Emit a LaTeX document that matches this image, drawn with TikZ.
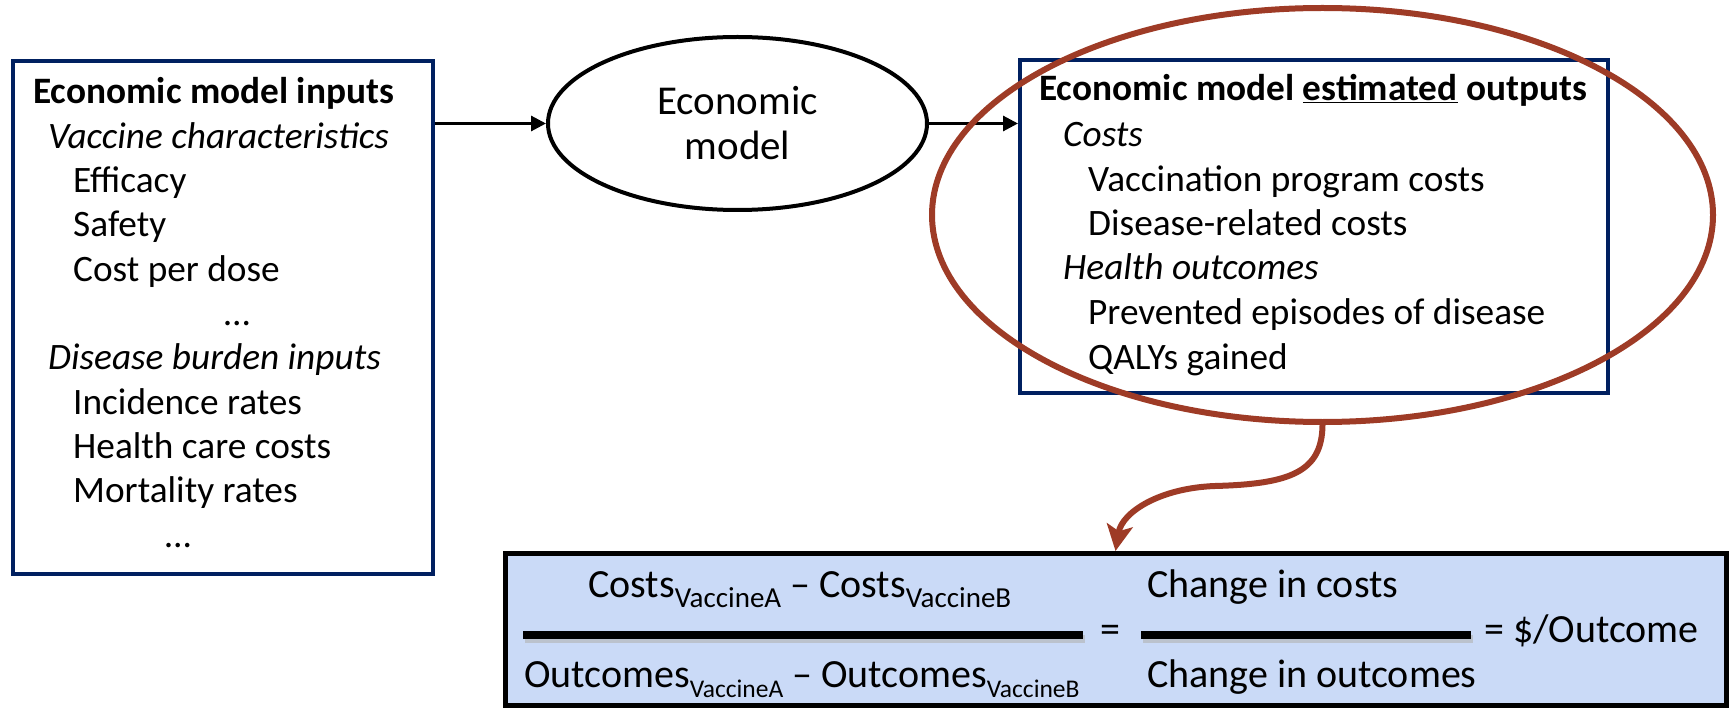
\documentclass[tikz,border=0pt]{standalone}
\usepackage{fontspec}
\setmainfont{Carlito}
\usetikzlibrary{arrows.meta,shapes.geometric}

\definecolor{boxnavy}{RGB}{0,32,96}
\definecolor{ringred}{RGB}{158,59,38}
\definecolor{ratioblue}{RGB}{202,218,247}

% lowered, smaller label after Costs / Outcomes (optional size)
\newcommand{\vsub}[2][25.5]{\raisebox{-10pt}{\fontsize{#1}{30}\selectfont #2}}

\tikzset{
  listbox/.style={draw=boxnavy,line width=4pt,rectangle,inner sep=0pt},
  txt/.style={anchor=base west,inner sep=0pt,font=\fontsize{37.3}{44.5}\selectfont},
  bigtxt/.style={anchor=base west,inner sep=0pt,font=\fontsize{40}{48}\selectfont},
  flow/.style={line width=3pt,-{Triangle[length=15pt,width=15pt]}},
  fracbar/.style={line width=8pt},
  barshade/.style={line width=8pt,black!30,opacity=.6},
}

\begin{document}
\begin{tikzpicture}[x=1pt,y=-1pt]
  \useasboundingbox (0,0) rectangle (1731,708);

  % inputs
  \node[listbox,minimum width=420pt,minimum height=513pt] (inbox) at (223,317.5) {};
  \node[txt] (inhead) at (33,104) {\bfseries Economic model inputs};
  \node[txt] (invac) at (48,148.3) {\itshape Vaccine characteristics};
  \node[txt] (ineff) at (73,192.6) {Efficacy};
  \node[txt] (insafe) at (73,236.9) {Safety};
  \node[txt] (incost) at (73,281.2) {Cost per dose};
  \node[txt,anchor=base] (indotsa) at (237,325.5) {…};
  \node[txt] (indis) at (48,369.8) {\itshape Disease burden inputs};
  \node[txt] (ininc) at (73,414.1) {Incidence rates};
  \node[txt] (inhcc) at (73,458.4) {Health care costs};
  \node[txt] (inmort) at (73,502.7) {Mortality rates};
  \node[txt,anchor=base] (indotsb) at (178,547) {…};

  % the model itself
  \node[ellipse,draw,line width=4pt,minimum width=379pt,minimum height=173pt,
        inner sep=0pt,align=center,font=\fontsize{41}{45}\selectfont]
        (model) at (737.5,123.5) {Economic\\model};

  % outputs
  \node[listbox,minimum width=588pt,minimum height=333pt] (outbox) at (1314,226.5) {};
  \node[txt] (outhead) at (1039,101) {\bfseries Economic model \underline{estimated} outputs};
  \node[txt] (outcosts) at (1063,147) {\itshape Costs};
  \node[txt] (outvacc) at (1088,192) {Vaccination program costs};
  \node[txt] (outdis) at (1088,236) {Disease-related costs};
  \node[txt] (outhealth) at (1063,280) {\itshape Health outcomes};
  \node[txt] (outprev) at (1088,325) {Prevented episodes of disease};
  \node[txt] (outqaly) at (1088,370) {QALYs gained};

  \draw[flow] (model.west -| inbox.east) -- (model.west);
  \draw[flow] (model.east) -- (model.east -| outbox.west);

  % highlight ring round the outputs
  \node[ellipse,draw=ringred,line width=6pt,minimum width=781pt,minimum height=414pt,
        inner sep=0pt] (ring) at (1322.5,215) {};

  % ratio box
  \node[rectangle,draw,fill=ratioblue,line width=5pt,minimum width=1221pt,
        minimum height=151.5pt,inner sep=0pt] (ratiobox) at (1115.5,629.25) {};

  \draw[barshade] (525,639) -- (1085,639);
  \draw[barshade] (1143,639) -- (1473,639);
  \draw[fracbar] (523,635) -- (1083,635);
  \draw[fracbar] (1141,635) -- (1471,635);

  \node[bigtxt] (numa) at (588,597) {Costs\vsub[29]{VaccineA} – Costs\vsub[29]{VaccineB}};
  \node[bigtxt] (dena) at (524,687) {Outcomes\vsub{VaccineA} – Outcomes\vsub{VaccineB}};
  \node[bigtxt,anchor=base] (eqa) at (1110,642) {=};
  \node[bigtxt] (numb) at (1147,597) {Change in costs};
  \node[bigtxt] (denb) at (1147,687) {Change in outcomes};
  \node[bigtxt] (eqb) at (1484,642) {= \$/Outcome};

  % from the ring down to the ratio
  \draw[ringred,line width=6pt,-{Stealth[length=26pt,width=26pt,inset=6pt]}]
    (ring.south) .. controls (1322,472) and (1290,484) .. (1215,486)
    .. controls (1160,488) and (1122,512) .. (ratiobox.north);
\end{tikzpicture}
\end{document}
